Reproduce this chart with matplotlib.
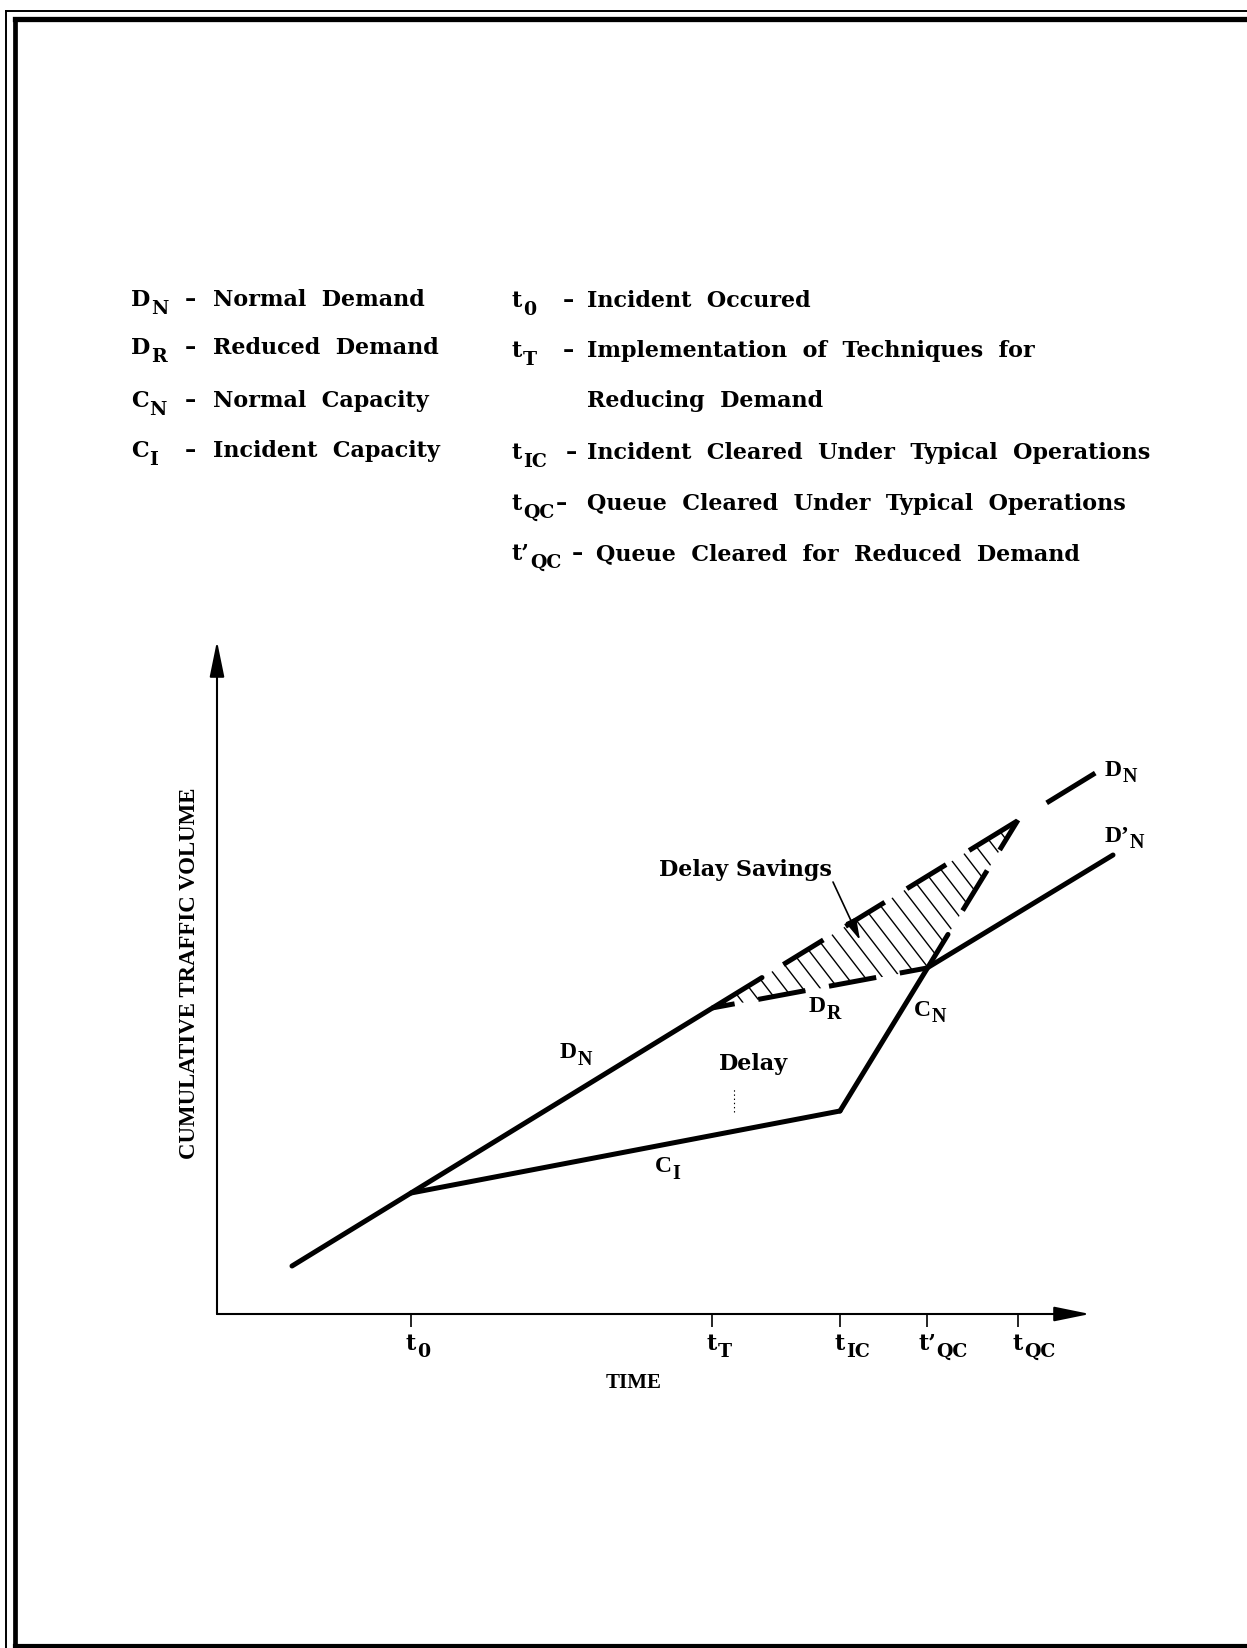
import numpy as np
import matplotlib.pyplot as plt
from matplotlib.patches import Polygon
from matplotlib.lines import Line2D

plt.rcParams['lines.scale_dashes'] = False

W, H = 1247, 1648
LEGEND_FONT = ['DejaVu Serif']
CHART_FONT = ['Liberation Serif']

# cumulative curves (time, cumulative volume)
dn_time = [7.5, 88.0]          # normal demand D_N
dn_vol = [4.8, 54.2]
ci_time = [19.4, 62.3]         # incident capacity C_I
ci_vol = [12.1, 20.3]
cn_time = [62.3, 80.1]         # normal capacity C_N
cn_vol = [20.3, 49.4]
dr_time = [49.5, 71.0]         # reduced demand D_R
dr_vol = [30.6, 34.6]
dnp_time = [71.0, 89.6]        # D'_N after queue clears
dnp_vol = [34.6, 45.9]
dn_solid_end = 54.5            # D_N turns dashed here
cn_solid_end = 73.1            # C_N turns dashed here

tick_pos = [19.4, 49.5, 62.3, 71.0, 80.1]
tick_main = ['t', 't', 't', 't’', 't']
tick_sub = ['0', 'T', 'IC', 'QC', 'QC']

left_sym = [('D', 'N'), ('D', 'R'), ('C', 'N'), ('C', 'I')]
left_text = ['Normal  Demand', 'Reduced  Demand', 'Normal  Capacity', 'Incident  Capacity']
right_sym = [('t', '0'), ('t', 'T'), None, ('t', 'IC'), ('t', 'QC'), ('t’', 'QC')]
right_text = ['Incident  Occured', 'Implementation  of  Techniques  for', 'Reducing  Demand',
              'Incident  Cleared  Under  Typical  Operations',
              'Queue  Cleared  Under  Typical  Operations',
              'Queue  Cleared  for  Reduced  Demand']

fig = plt.figure(figsize=(W / 100, H / 100), dpi=100)
ax = fig.add_axes([217 / W, 334 / H, 873 / W, 673 / H])
ax.set_xlim(0, 87.3)
ax.set_ylim(0, 67.3)
for s in ax.spines.values():
    s.set_visible(False)
ax.set_yticks([])
ax.set_xticks(tick_pos)
ax.set_xticklabels([])
ax.tick_params(axis='x', direction='out', length=9, width=1.2)


def sym(x, y, main, sub, size, font, coords='figure pixels', ha='left', va='baseline',
        drop=4.5, scale=0.85, offset=(0, 0)):
    # letter with a large dropped subscript, like the typed original
    t = ax.annotate(main, (x, y), xycoords=coords, xytext=offset, textcoords='offset points',
                    ha=ha, va=va, fontsize=size, family=font, weight='bold',
                    annotation_clip=False)
    ax.annotate(sub, (1, 0), xycoords=t, xytext=(0.5, -drop), textcoords='offset points',
                ha='left', va='bottom', fontsize=size * scale, family=font, weight='bold')
    return t


# legend block
left_base = [306, 354, 407, 457]
for (m, sb), txt, yb in zip(left_sym, left_text, left_base):
    sym(131, H - yb, m, sb, 16, LEGEND_FONT, drop=5)
    fig.text(190 / W, 1 - yb / H, '–', ha='center', va='baseline', fontsize=16,
             family=LEGEND_FONT, weight='bold')
    fig.text(213 / W, 1 - yb / H, txt, ha='left', va='baseline', fontsize=16,
             family=LEGEND_FONT, weight='bold')

right_base = [307, 357, 407, 459, 510, 560]
dash_x = [568, 568, None, 571, 561, 577]
text_x = [587, 587, 587, 587, 587, 596]
for s_, txt, yb, dx, tx in zip(right_sym, right_text, right_base, dash_x, text_x):
    if s_ is not None:
        sym(512, H - yb, s_[0], s_[1], 16, LEGEND_FONT, drop=5)
        fig.text(dx / W, 1 - yb / H, '–', ha='center', va='baseline', fontsize=16,
                 family=LEGEND_FONT, weight='bold')
    fig.text(tx / W, 1 - yb / H, txt, ha='left', va='baseline', fontsize=16,
             family=LEGEND_FONT, weight='bold')

# axes lines with arrow heads
arrow = dict(arrowstyle='-|>,head_length=2.2,head_width=0.45', lw=1.5, color='black',
             shrinkA=0, shrinkB=0)
ax.annotate('', xy=(1, 0), xytext=(0, 0), xycoords='axes fraction', arrowprops=arrow)
ax.annotate('', xy=(0, 1), xytext=(0, 0), xycoords='axes fraction', arrowprops=arrow)

# hatched delay savings between D_N and D_R / C_N
ta, tb, tc = dr_time[0], cn_time[1], dr_time[1]
tri = Polygon([(ta, np.interp(ta, dn_time, dn_vol)), (tb, np.interp(tb, dn_time, dn_vol)),
               (tc, np.interp(tc, cn_time, cn_vol))], closed=True, fill=False,
              edgecolor='none')
ax.add_patch(tri)
for c in np.arange(ta, tb, 1.2):
    v = np.interp(c, dn_time, dn_vol)
    h, = ax.plot([c - 3, c + 12], [v + 3 * 1.3, v - 12 * 1.3], color='black', lw=1.0, zorder=1)
    h.set_clip_path(tri)

lw = 3.6
px = 0.72
kw = dict(color='black', lw=lw, clip_on=False, zorder=3)

t = np.array([dn_time[0], dn_solid_end])
ax.plot(t, np.interp(t, dn_time, dn_vol), solid_capstyle='round', **kw)
t = np.array([dn_solid_end, dn_time[1]])
seq = [47, 26, 46, 26, 46, 27, 56, 35, 57, 25]
ax.plot(t, np.interp(t, dn_time, dn_vol), dash_capstyle='butt',
        linestyle=((sum(seq) - 25) * px, [d * px for d in seq]), **kw)

ax.plot(ci_time, ci_vol, solid_capstyle='round', solid_joinstyle='round', **kw)

t = np.array([cn_time[0], cn_solid_end])
ax.plot(t, np.interp(t, cn_time, cn_vol), solid_capstyle='round', **kw)
t = np.array([cn_solid_end, cn_time[1]])
seq = [47, 24, 38, 28]
ax.plot(t, np.interp(t, cn_time, cn_vol), dash_capstyle='butt',
        linestyle=(109 * px, [d * px for d in seq]), **kw)

ax.plot(dr_time, dr_vol, dash_capstyle='butt', linestyle=(25 * px, (48 * px, 24 * px)), **kw)
ax.plot(dnp_time, dnp_vol, solid_capstyle='round', **kw)

# chart labels
sym(35.1, 26.1, 'D', 'N', 17, CHART_FONT, coords='data', ha='center', va='center', drop=5)
sym(44.6, 14.7, 'C', 'I', 17, CHART_FONT, coords='data', ha='center', va='center', drop=5)
sym(60.0, 30.7, 'D', 'R', 17, CHART_FONT, coords='data', ha='center', va='center', drop=5)
sym(70.5, 30.4, 'C', 'N', 17, CHART_FONT, coords='data', ha='center', va='center', drop=5)
sym(89.6, 54.4, 'D', 'N', 17, CHART_FONT, coords='data', ha='center', va='center', drop=5)
sym(90.0, 47.8, 'D’', 'N', 17, CHART_FONT, coords='data', ha='center', va='center', drop=5)

ax.text(53.7, 25.0, 'Delay', ha='center', va='center', fontsize=16, family=LEGEND_FONT,
        weight='bold')
ax.plot([51.7, 51.7], [20.2, 22.6], color='black', lw=0.8, linestyle=(0, (1, 2)))
ax.text(52.8, 44.4, 'Delay Savings', ha='center', va='center', fontsize=16,
        family=LEGEND_FONT, weight='bold')
ax.annotate('', xy=(64.3, 37.4), xytext=(61.6, 43.2),
            arrowprops=dict(arrowstyle='-|>,head_length=1.3,head_width=0.35', lw=1.2,
                            color='black', shrinkA=0, shrinkB=0))

# tick labels
for x, m, sb in zip(tick_pos, tick_main, tick_sub):
    sym(x, 0, m, sb, 16, LEGEND_FONT, coords=('data', 'axes fraction'), ha='center',
        va='top', offset=(0, -13.5))

fig.text(634 / W, 1 - 1383 / H, 'TIME', ha='center', va='center', fontsize=15,
         family=CHART_FONT, weight='bold')
fig.text(189 / W, 1 - 973 / H, 'CUMULATIVE TRAFFIC VOLUME', ha='center', va='center',
         rotation=90, fontsize=16.5, family=CHART_FONT, weight='bold')

# page frame
frame = [((6, 6), (11, H), 1.4), ((6, W), (11, 11), 1.4),
         ((14.5, 14.5), (19, 1646), 3.4), ((14.5, W), (19, 19), 3.8),
         ((14.5, W), (1646, 1646), 3.0)]
for xs, ys, w in frame:
    fig.add_artist(Line2D([x / W for x in xs], [1 - y / H for y in ys], color='black', lw=w))

fig.savefig('out.png', dpi=100, facecolor='white')
